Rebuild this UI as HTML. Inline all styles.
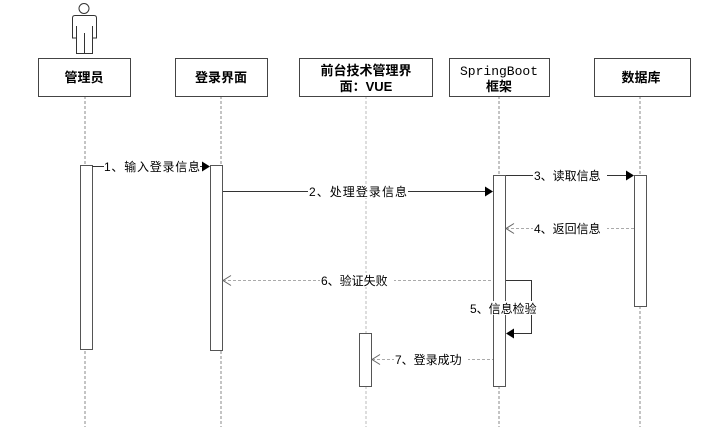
<!DOCTYPE html>
<html><head><meta charset="utf-8"><style>
html,body{margin:0;padding:0;background:#fff;}
text{font-family:"Liberation Sans","Noto Sans CJK SC",sans-serif;font-size:12px;fill:#000;}
.b{font-weight:bold;font-size:13px;}
</style></head><body>
<svg width="711" height="427" xmlns="http://www.w3.org/2000/svg">
<g stroke="#888" stroke-dasharray="3,2" stroke-width="1">
<line x1="85" y1="96" x2="85" y2="427"/>
<line x1="221" y1="96" x2="221" y2="427"/>
<line x1="366" y1="96" x2="366" y2="427" stroke="#bbb"/>
<line x1="499" y1="96" x2="499" y2="427"/>
<line x1="640" y1="96" x2="640" y2="427"/>
</g>
<g fill="#fff" stroke="#444" stroke-width="1">
<rect x="38.5" y="58.5" width="92" height="38"/>
<rect x="175.5" y="58.5" width="92" height="38"/>
<rect x="299.5" y="58.5" width="133" height="38"/>
<rect x="449.5" y="58.5" width="100" height="38"/>
<rect x="594.5" y="58.5" width="96" height="38"/>
</g>
<text class="b" x="84" y="82" text-anchor="middle">管理员</text>
<text class="b" x="221" y="82" text-anchor="middle">登录界面</text>
<text class="b" x="366" y="75" text-anchor="middle">前台技术管理界</text>
<text class="b" x="366" y="91" text-anchor="middle">面：VUE</text>
<text class="b" x="499" y="75" text-anchor="middle" style="font-family:'Liberation Mono','Noto Sans CJK SC',monospace;font-weight:normal">SpringBoot</text>
<text class="b" x="499" y="91" text-anchor="middle">框架</text>
<text class="b" x="641" y="82" text-anchor="middle">数据库</text>
<!-- actor -->
<g fill="#fff" stroke="#333" stroke-width="1">
<circle cx="84" cy="8.5" r="5"/>
<path d="M72.5,38 V18 Q72.5,15.5 75,15.5 H94 Q96.5,15.5 96.5,18 V38 H92.5 V53.5 H76.5 V38 Z"/>
<line x1="84.5" y1="33" x2="84.5" y2="53"/>
<line x1="76.5" y1="38" x2="76.5" y2="26"/><line x1="92.5" y1="38" x2="92.5" y2="26"/>
</g>
<!-- activations -->
<g fill="#fff" stroke="#555" stroke-width="1">
<rect x="80.5" y="165.5" width="12" height="184"/>
<rect x="210.5" y="165.5" width="12" height="185"/>
<rect x="493.5" y="175.5" width="12" height="211"/>
<rect x="634.5" y="175.5" width="12" height="131"/>
<rect x="359.5" y="333.5" width="12" height="53"/>
</g>
<!-- messages -->
<g stroke="#333" stroke-width="1" fill="none">
<line x1="92" y1="166.5" x2="202" y2="166.5"/>
<line x1="223" y1="191.5" x2="485" y2="191.5"/>
<line x1="506" y1="175.5" x2="626" y2="175.5"/>
<path d="M506,280.5 H531.5 V333.5 H514"/>
</g>
<g stroke="#aaa" stroke-dasharray="3,2" fill="none">
<line x1="506" y1="228.5" x2="634" y2="228.5"/>
<line x1="223" y1="280.5" x2="493" y2="280.5"/>
<line x1="372" y1="359.5" x2="493" y2="359.5"/>
</g>
<g>
<rect x="104" y="159" width="96" height="14" fill="#fff"/>
<text x="104" y="171" textLength="96">1、输入登录信息</text>
<rect x="308" y="184" width="100" height="14" fill="#fff"/>
<text x="309" y="196" textLength="98">2、处理登录信息</text>
<rect x="533" y="168" width="74" height="14" fill="#fff"/>
<text x="534" y="180">3、读取信息</text>
<rect x="533" y="221" width="74" height="14" fill="#fff"/>
<text x="534" y="233">4、返回信息</text>
<rect x="320" y="273" width="74" height="14" fill="#fff"/>
<text x="321" y="285">6、验证失败</text>
<rect x="469" y="301" width="74" height="14" fill="#fff"/>
<text x="470" y="313">5、信息检验</text>
<rect x="394" y="352" width="74" height="14" fill="#fff"/>
<text x="395" y="364">7、登录成功</text>
</g>
<g fill="#000">
<path d="M210,166.5 l-8,-5 v10z"/>
<path d="M493,191.5 l-8,-5 v10z"/>
<path d="M634,175.5 l-8,-5 v10z"/>
<path d="M506,333.5 l8,-5 v10z"/>
</g>
<g stroke="#666" fill="none">
<path d="M514,223.5 l-8,5 l8,5"/>
<path d="M231,275.5 l-8,5 l8,5"/>
<path d="M380,354.5 l-8,5 l8,5"/>
</g>
</svg>
</body></html>
